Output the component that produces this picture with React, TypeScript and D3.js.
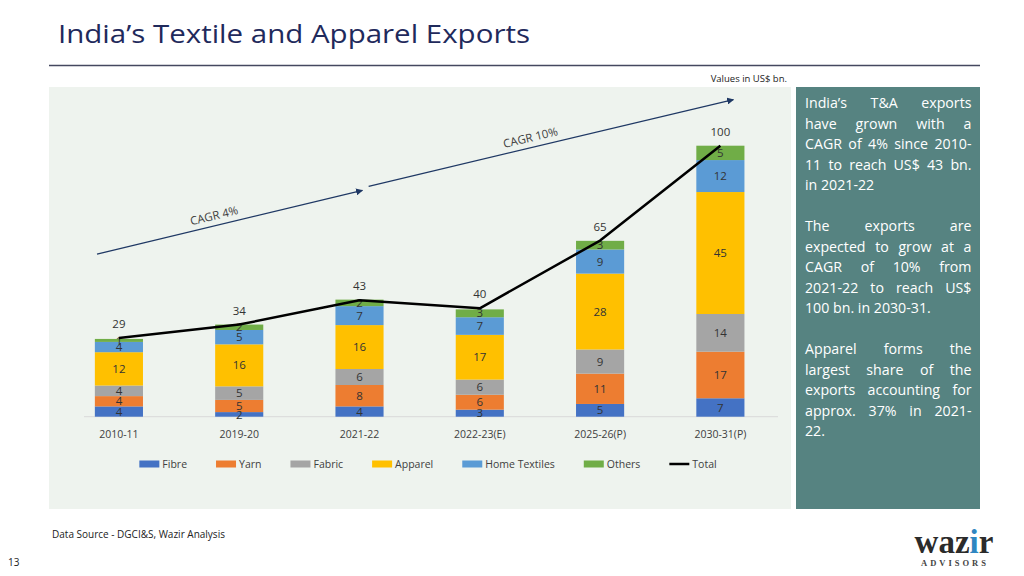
import React, { useMemo } from "react";
import * as d3 from "d3";

const categories = ["2010-11", "2019-20", "2021-22", "2022-23(E)", "2025-26(P)", "2030-31(P)"];
const seriesNames = ["Fibre", "Yarn", "Fabric", "Apparel", "Home Textiles", "Others"];
const fibre = [3.8, 1.7, 3.8, 2.6, 4.7, 6.8];
const yarn = [3.8, 4.5, 7.9, 5.5, 11.2, 17.2];
const fabric = [3.9, 5.0, 5.9, 5.6, 8.9, 13.9];
const apparel = [12.3, 15.5, 16.2, 16.5, 28.0, 45.0];
const homeTextiles = [3.8, 5.3, 7.0, 6.5, 8.9, 11.8];
const others = [1.1, 2.0, 2.4, 2.9, 3.2, 5.3];
const total = [29, 34, 43, 40, 65, 100];

const cagrLabels = ["CAGR 4%", "CAGR 10%"];
const cagrFromCat = ["2010-11", "2021-22"];
const cagrToCat = ["2021-22", "2030-31(P)"];
const cagrFromValue = [60, 85];
const cagrToValue = [83.5, 117];

const panelLines = [
  ["India’s T&A exports", "have grown with a", "CAGR of 4% since 2010-", "11 to reach US$ 43 bn.", "in 2021-22"],
  ["The exports are", "expected to grow at a", "CAGR of 10% from", "2021-22 to reach US$", "100 bn. in 2030-31."],
  ["Apparel forms the", "largest share of the", "exports accounting for", "approx. 37% in 2021-", "22."],
];

const colors = ["#4472C4", "#ED7D31", "#A5A5A5", "#FFC000", "#5B9BD5", "#70AD47"];
const FONT = "'Open Sans', 'Noto Sans', sans-serif";

export default function App() {
  const W = 1024, H = 576;
  const seriesValues = [fibre, yarn, fabric, apparel, homeTextiles, others];
  const rows = categories.map((c, i) => {
    const r: any = { cat: c };
    seriesNames.forEach((s, k) => (r[s] = seriesValues[k][i]));
    return r;
  });
  const stacked = d3.stack<any>().keys(seriesNames)(rows);

  const x = d3.scaleBand().domain(categories).range([70.8, 768.5]).paddingInner(0.6).paddingOuter(0.2);
  const y = d3.scaleLinear().domain([0, 100]).range([416.7, 145.7]);
  const bw = x.bandwidth();
  const cx = (c: string) => (x(c) as number) + bw / 2;

  const ctx = useMemo(() => {
    const cv = document.createElement("canvas");
    return cv.getContext("2d") as CanvasRenderingContext2D;
  }, []);
  const measure = (t: string, font: string) => {
    ctx.font = font;
    return ctx.measureText(t).width;
  };

  const lineGen = d3
    .line<number>()
    .x((_, i) => cx(categories[i]))
    .y((d) => y(d));

  const legFont = `10.5px ${FONT}`;
  const swW = 20, gapSw = 3, gapItem = 29;
  const legItems = [...seriesNames, "Total"].map((n) => ({ n, w: swW + gapSw + measure(n, legFont) }));
  const legTotalW = d3.sum(legItems, (d) => d.w) + gapItem * (legItems.length - 1);
  let lx = 428 - legTotalW / 2;
  const legPos = legItems.map((d) => {
    const p = lx;
    lx += d.w + gapItem;
    return p;
  });

  const pSize = 14.2;
  const pFont = `${pSize}px ${FONT}`;
  const px0 = 805, px1 = 971.5;
  const pitch = 20.5;
  const panelEls: any[] = [];
  let lineIdx = 0;
  panelLines.forEach((para, pi) => {
    para.forEach((ln, li) => {
      const yy = 108 + lineIdx * pitch;
      const words = ln.split(" ");
      const last = li === para.length - 1;
      if (last || words.length === 1) {
        panelEls.push(
          <text key={`p${pi}-${li}`} x={px0} y={yy} fontSize={pSize} fontFamily={FONT} fill="#ffffff">
            {ln}
          </text>
        );
      } else {
        const ws = words.map((w) => measure(w, pFont));
        const gap = (px1 - px0 - d3.sum(ws)) / (words.length - 1);
        let xx = px0;
        words.forEach((w, wi) => {
          panelEls.push(
            <text key={`p${pi}-${li}-${wi}`} x={xx} y={yy} fontSize={pSize} fontFamily={FONT} fill="#ffffff">
              {w}
            </text>
          );
          xx += ws[wi] + gap;
        });
      }
      lineIdx++;
    });
    lineIdx++;
  });

  const fracFrom = [0.045, 0.69];
  const fracTo = [0.56, 0.77];
  const arrows = cagrLabels.map((lab, i) => {
    const x1 = (x(cagrFromCat[i]) as number) + fracFrom[i] * bw;
    const y1 = y(cagrFromValue[i]);
    const x2 = (x(cagrToCat[i]) as number) + fracTo[i] * bw;
    const y2 = y(cagrToValue[i]);
    const ang = (Math.atan2(y2 - y1, x2 - x1) * 180) / Math.PI;
    const t = 0.45;
    const mx = x1 + (x2 - x1) * t, my = y1 + (y2 - y1) * t;
    const len = Math.hypot(x2 - x1, y2 - y1);
    const nx = (y2 - y1) / len, ny = -(x2 - x1) / len;
    const off = 6;
    return { lab, x1, y1, x2, y2, ang, lx: mx + nx * off, ly: my + ny * off };
  });

  return (
    <svg width={W} height={H} style={{ position: "absolute", left: 0, top: 0 }} fontFamily={FONT}>
      <defs>
        <marker id="arr" viewBox="0 0 10 10" refX="9" refY="5" markerWidth="7" markerHeight="7" orient="auto" markerUnits="userSpaceOnUse">
          <path d="M0,0 L10,5 L0,10 z" fill="#1F3864" />
        </marker>
      </defs>
      <rect x={0} y={0} width={W} height={H} fill="#ffffff" />
      <text x={58} y={43} fontSize={25} fill="#1F2A5C" fontFamily="'Open Sans', sans-serif" textLength={472} lengthAdjust="spacingAndGlyphs">
        India’s Textile and Apparel Exports
      </text>
      <line x1={49} x2={980} y1={65.5} y2={65.5} stroke="#44485F" strokeWidth={1.5} />
      <text x={787} y={82} fontSize={9.5} textAnchor="end" fill="#222">
        Values in US$ bn.
      </text>

      <rect x={49} y={87} width={742} height={422} fill="#EEF3EE" />
      <rect x={796} y={87} width={184} height={422} fill="#568381" />

      <line x1={84} x2={778} y1={y(0)} y2={y(0)} stroke="#D9D9D9" strokeWidth={1} />

      {stacked.map((s, k) => (
        <g key={s.key}>
          {s.map((d, i) => (
            <rect key={i} x={x(categories[i])} y={y(d[1])} width={bw} height={y(d[0]) - y(d[1])} fill={colors[k]} />
          ))}
        </g>
      ))}
      {stacked.map((s, k) => (
        <g key={"l" + s.key}>
          {s.map((d, i) => (
            <text
              key={i}
              x={cx(categories[i])}
              y={(y(d[0]) + y(d[1])) / 2}
              dy="0.36em"
              fontSize={11.5}
              textAnchor="middle"
              fill="#333333"
            >
              {Math.round(d[1] - d[0])}
            </text>
          ))}
        </g>
      ))}

      <path d={lineGen(total) || ""} fill="none" stroke="#000" strokeWidth={2.5} strokeLinejoin="round" />
      {total.map((t, i) => (
        <text key={i} x={cx(categories[i])} y={y(t) - 10} fontSize={11.5} textAnchor="middle" fill="#333333">
          {t}
        </text>
      ))}

      {arrows.map((a, i) => (
        <g key={i}>
          <line x1={a.x1} y1={a.y1} x2={a.x2} y2={a.y2} stroke="#1F3864" strokeWidth={1.2} markerEnd="url(#arr)" />
          <text
            x={a.lx}
            y={a.ly}
            fontSize={11.5}
            fill="#404040"
            textAnchor="middle"
            transform={`rotate(${a.ang},${a.lx},${a.ly})`}
          >
            {a.lab}
          </text>
        </g>
      ))}

      {categories.map((c) => (
        <text key={c} x={cx(c)} y={437.5} fontSize={10.5} textAnchor="middle" fill="#404040">
          {c}
        </text>
      ))}

      {legItems.map((d, i) => (
        <g key={d.n} transform={`translate(${legPos[i]},464)`}>
          {i < 6 ? (
            <rect x={0} y={-3.5} width={swW} height={7} fill={colors[i]} />
          ) : (
            <line x1={0} x2={swW} y1={0} y2={0} stroke="#000" strokeWidth={2.5} />
          )}
          <text x={swW + gapSw} y={0} dy="0.36em" fontSize={10.5} fill="#404040">
            {d.n}
          </text>
        </g>
      ))}

      {panelEls}

      <text x={52} y={538} fontSize={10} fill="#222">
        Data Source - DGCI&amp;S, Wazir Analysis
      </text>
      <text x={8} y={566} fontSize={10} fill="#222">
        13
      </text>
      <text x={954} y={553} fontSize={33} fontWeight="bold" textAnchor="middle" fontFamily="'Liberation Serif', 'DejaVu Serif', serif" fill="#2b2b2b">
        waz<tspan fill="#2E86C1">i</tspan>r
      </text>
      <text x={955} y={566} fontSize={8.5} fontWeight="bold" textAnchor="middle" letterSpacing={3} fontFamily="'Liberation Serif', serif" fill="#444">
        ADVISORS
      </text>
    </svg>
  );
}
